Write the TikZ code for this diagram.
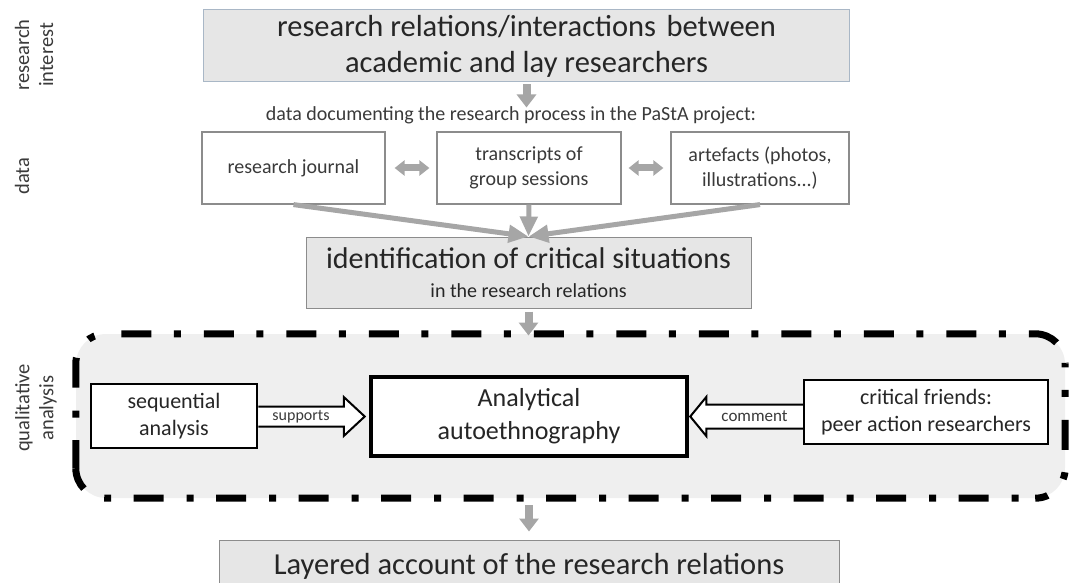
\documentclass[tikz,border=0pt]{standalone}
\usepackage{fontspec}
\setmainfont{Carlito}
\usetikzlibrary{arrows.meta,calc}
\definecolor{boxfill}{HTML}{E6E6E6}
\definecolor{regfill}{HTML}{EFEFEF}
\definecolor{arrowgray}{HTML}{A6A6A6}
\definecolor{txt}{HTML}{3A3A3A}
\definecolor{boxline}{HTML}{8C8C8C}
\definecolor{topline}{HTML}{A9B7C6}
\begin{document}
\begin{tikzpicture}[x=1pt,y=-1pt,
 graybox/.style={draw=boxline, line width=1pt, fill=boxfill, inner sep=0pt, text=black!85, align=center},
 databox/.style={draw=boxline, line width=1.2pt, fill=white, inner sep=0pt, text=txt, align=center, font=\fontsize{20}{24.5}\selectfont},
 qualbox/.style={draw=black, fill=white, inner sep=0pt, align=center, text=black!85},
 sidelabel/.style={rotate=90, align=center, text=txt, font=\fontsize{20.5}{24}\selectfont},
 grayarrow/.style={draw=arrowgray, line width=8pt, -{Triangle[length=13pt,width=19pt]}},
 convarrow/.style={draw=arrowgray, line width=5pt, -{Triangle[length=20pt,width=17pt]}},
 dblarrow/.style={draw=arrowgray, line width=7pt, {Triangle[length=10pt,width=15pt]}-{Triangle[length=10pt,width=15pt]}},
 openarrow/.style={draw=black, line width=2pt, fill=white, line join=miter},
 arrowlabel/.style={text=txt, inner sep=0pt},
 dashdot/.style={draw=black, line width=7pt, rounded corners=30pt,
      dash pattern=on 30pt off 22.5pt on 7pt off 23pt},
 ]
\useasboundingbox (0,0) rectangle (1069,583);
\clip (0,0) rectangle (1069,583);

% side labels
\node[sidelabel] (lab1) at (34,55) {research\\interest};
\node[sidelabel] (lab2) at (22,176) {data};
\node[sidelabel] (lab3) at (36,408) {qualitative\\analysis};

% research interest
\node[graybox, draw=topline, minimum width=646pt, minimum height=72pt,
      font=\fontsize{30.5}{36}\selectfont] (top) at (526.5,46)
      {research relations/interactions\hspace{0.12em} between\\academic and lay researchers};

\node[text=txt, font=\fontsize{20}{24}\selectfont] (datatext) at (511,115.5)
      {data documenting the research process in the PaStA project:};

% data boxes
\node[databox, minimum width=183pt, minimum height=72pt] (journal) at (293.5,168) {research journal};
\node[databox, minimum width=184pt, minimum height=72pt] (trans) at (529,168) {transcripts of\\group sessions};
\node[databox, minimum width=178pt, minimum height=72pt] (arte) at (760,168) {artefacts (photos,\\illustrations...)};

% identification
\node[graybox, minimum width=445pt, minimum height=71pt,
      font=\fontsize{30}{29}\selectfont] (ident) at (528.5,272.5)
      {identification of critical situations\\{\fontsize{20}{24}\selectfont in the research relations}};

% qualitative analysis region
\node[fill=regfill, rounded corners=30pt, minimum width=989pt, minimum height=164pt,
      inner sep=0pt] (qual) at (570.5,416) {};
\draw[dashdot, dash phase=67pt] ($(qual.north west)+(30,0)$) -- (qual.north east) -- ($(qual.north east)+(0,30)$);
\draw[dashdot, dash phase=26.5pt] ($(qual.north east)+(0,30)$) -- (qual.south east) -- ($(qual.south east)+(-30,0)$);
\draw[dashdot, dash phase=36pt] ($(qual.south east)+(-30,0)$) -- (qual.south west) -- ($(qual.south west)+(0,-30)$);
\draw[dashdot, dash phase=2pt] ($(qual.south west)+(0,-30)$) -- (qual.north west) -- ($(qual.north west)+(30,0)$);

\node[qualbox, line width=2.5pt, minimum width=166pt, minimum height=64pt,
      font=\fontsize{22}{27}\selectfont] (seq) at (174,416) {sequential\\analysis};
\node[qualbox, line width=4.5pt, minimum width=316pt, minimum height=79pt,
      font=\fontsize{26}{33}\selectfont] (ana) at (529,416.5) {Analytical\\autoethnography};
\node[qualbox, line width=2.5pt, minimum width=244pt, minimum height=64pt,
      font=\fontsize{22}{27.5}\selectfont] (crit) at (926,412) {critical friends:\\peer action researchers};

% result
\node[graybox, minimum width=620pt, minimum height=52pt,
      font=\fontsize{30.5}{36}\selectfont] (layer) at (529,566)
      {Layered account of the research relations};

% gray connectors
\draw[grayarrow] ($(top.south)+(0,2)$) -- ($(top.south)+(0,25)$);
\draw[dblarrow] ($(journal.east)+(9,0)$) -- ($(trans.west)+(-7,0)$);
\draw[dblarrow] ($(trans.east)+(7,0)$) -- ($(arte.west)+(-7,0)$);
\draw[convarrow] (journal.south) -- (ident.north);
\draw[convarrow] (trans.south) -- (ident.north);
\draw[convarrow] (arte.south) -- (ident.north);
\draw[grayarrow] ($(ident.south)+(0,3)$) -- ($(ident.south)+(0,27)$);
\draw[grayarrow] ($(layer.north |- qual.south)+(0,7)$) -- ($(layer.north)+(0,-8)$);

% open block arrows
\path (seq.east) coordinate (se) (ana.west) coordinate (aw)
      (ana.east) coordinate (ae) (crit.west) coordinate (cw);
\draw[openarrow] ($(se |- aw)+(0,-10)$) -- ($(aw)+(-25,-10)$) -- ($(aw)+(-25,-19.5)$)
   -- ($(aw)+(-4,0)$) -- ($(aw)+(-25,19.5)$) -- ($(aw)+(-25,10)$) -- ($(se |- aw)+(0,10)$);
\node[arrowlabel, font=\fontsize{16}{16}\selectfont] (suplab) at ($(se |- aw)!0.5!($(aw)+(-25,0)$)$) {supports};
\draw[openarrow] ($(cw |- ae)+(0,-12)$) -- ($(ae)+(17,-12)$) -- ($(ae)+(17,-19.5)$)
   -- ($(ae)+(1,0)$) -- ($(ae)+(17,19.5)$) -- ($(ae)+(17,12)$) -- ($(cw |- ae)+(0,12)$);
\node[arrowlabel, font=\fontsize{17}{17}\selectfont] (comlab) at ($(cw |- ae)!0.5!($(ae)+(17,0)$)$) {comment};
\end{tikzpicture}
\end{document}
